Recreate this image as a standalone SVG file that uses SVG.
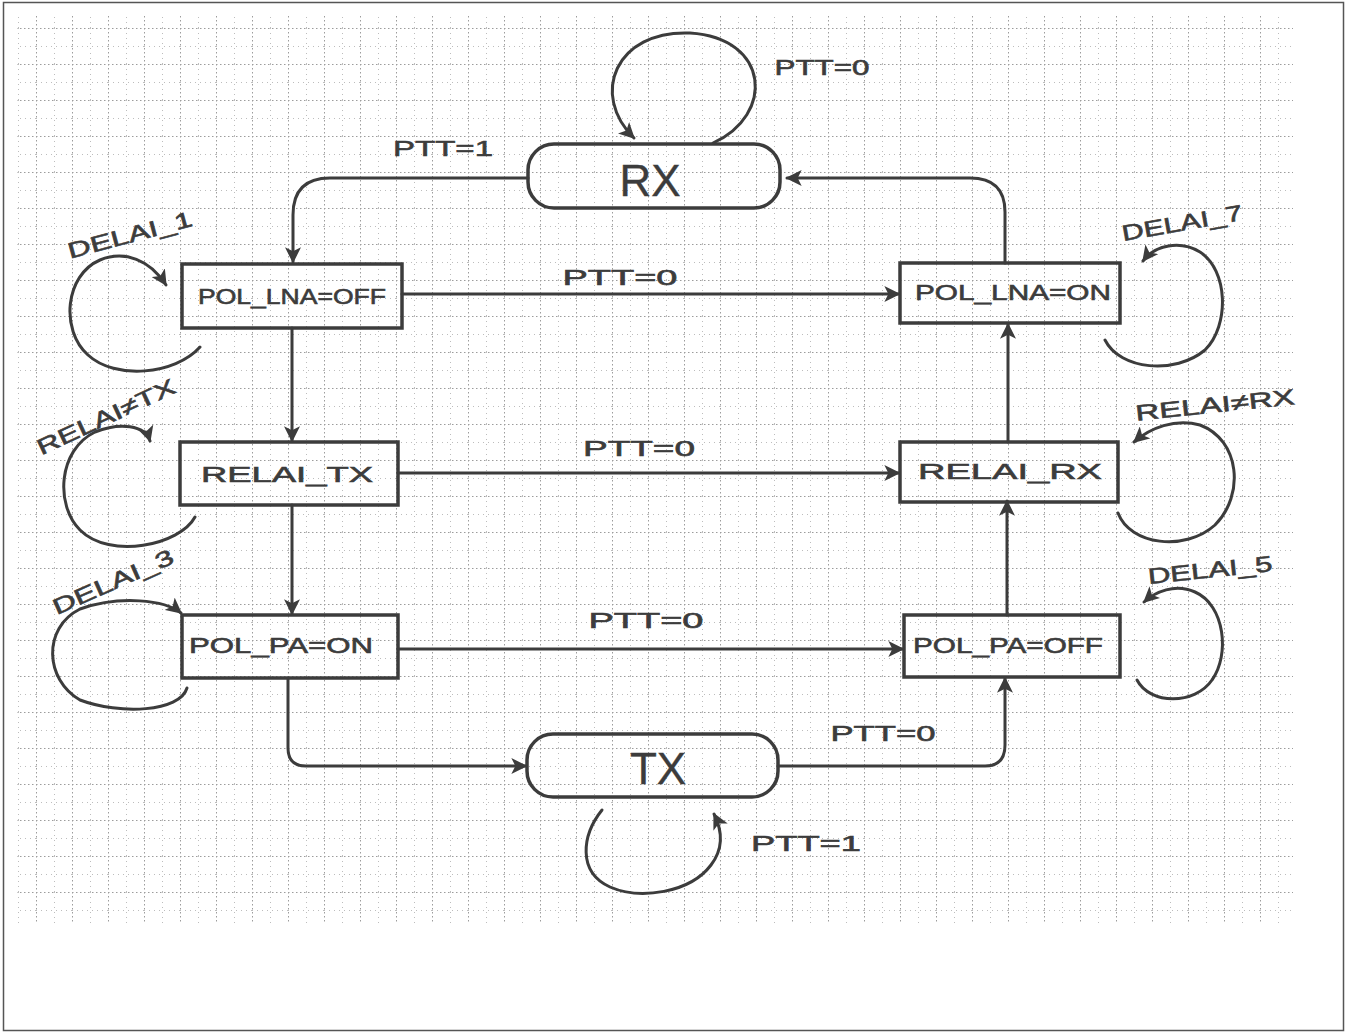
<svg xmlns="http://www.w3.org/2000/svg" width="1348" height="1035" viewBox="0 0 1348 1035">
  <defs>
    <pattern id="grid" x="0" y="28" width="36" height="36" patternUnits="userSpaceOnUse">
      <path d="M18.5,0 V36 M0,18.5 H36" stroke="#bdbdbd" stroke-width="1" stroke-dasharray="1 4" fill="none"/>
      <path d="M0.5,0 V36 M0,0.5 H36" stroke="#9c9c9c" stroke-width="1" stroke-dasharray="1.5 2.5" fill="none"/>
    </pattern>
    <marker id="arr" viewBox="0 0 12 12" refX="11" refY="6" markerWidth="16" markerHeight="16" markerUnits="userSpaceOnUse" orient="auto">
      <path d="M0,0 L12,6 L0,12 L3,6 z" fill="#3c3c3c"/>
    </marker>
  </defs>
  <style>
    .ln { fill: none; stroke: #3c3c3c; stroke-width: 3; stroke-linecap: round; stroke-linejoin: round; }
    .box { fill: none; stroke: #3c3c3c; stroke-width: 3.5; }
    .t { font-family: "Liberation Sans", "DejaVu Sans", sans-serif; fill: #3c3c3c; stroke: #3c3c3c; stroke-width: 0.6; text-anchor: middle; dominant-baseline: central; }
    .nt { font-size: 22px; }
    .big { font-size: 44px; stroke-width: 0.4; }
    .lb { font-size: 22px; }
  </style>
  <rect x="0" y="0" width="1348" height="1035" fill="#ffffff"/>
  <rect x="17" y="15" width="1276" height="908" fill="url(#grid)"/>
  <rect x="3.5" y="2.5" width="1340" height="1028" fill="none" stroke="#555" stroke-width="1.5"/>

  <g id="connectors">
    <path class="ln" d="M528,178 H330 Q293,178 293,215 V262" marker-end="url(#arr)"/>
    <path class="ln" d="M713,143 C775,115 770,38 690,33 C615,30 590,95 634,138" marker-end="url(#arr)"/>
    <path class="ln" d="M1005,263 V212 Q1005,178 970,178 H787" marker-end="url(#arr)"/>
    <path class="ln" d="M402,294 H899" marker-end="url(#arr)"/>
    <path class="ln" d="M292,328 V441" marker-end="url(#arr)"/>
    <path class="ln" d="M398,473 H899" marker-end="url(#arr)"/>
    <path class="ln" d="M292,505 V614" marker-end="url(#arr)"/>
    <path class="ln" d="M398,649 H903" marker-end="url(#arr)"/>
    <path class="ln" d="M288,678 V748 Q288,766 306,766 H526" marker-end="url(#arr)"/>
    <path class="ln" d="M778,766 H985 Q1005,766 1005,745 V678" marker-end="url(#arr)"/>
    <path class="ln" d="M1007,615 V501" marker-end="url(#arr)"/>
    <path class="ln" d="M1008,442 V324" marker-end="url(#arr)"/>
    <path class="ln" d="M200,347 C175,375 115,380 88,355 C60,330 65,275 100,260 C125,250 150,260 166,285" marker-end="url(#arr)"/>
    <path class="ln" d="M195,517 C180,545 110,560 80,530 C55,505 58,450 95,432 C120,422 145,425 150,441" marker-end="url(#arr)"/>
    <path class="ln" d="M187,688 C180,712 120,715 80,700 C45,680 42,628 80,609 C120,595 165,600 181,613" marker-end="url(#arr)"/>
    <path class="ln" d="M1105,340 C1120,370 1175,375 1205,350 C1230,325 1228,270 1200,252 C1180,240 1155,245 1143,261" marker-end="url(#arr)"/>
    <path class="ln" d="M1118,513 C1130,545 1185,552 1215,525 C1245,495 1240,440 1200,425 C1175,418 1150,428 1134,442" marker-end="url(#arr)"/>
    <path class="ln" d="M1137,680 C1150,705 1195,705 1212,680 C1230,655 1225,605 1195,592 C1175,583 1155,592 1144,602" marker-end="url(#arr)"/>
    <path class="ln" d="M602,810 C582,835 577,872 610,887 C640,900 690,893 711,865 C724,848 722,830 714,814" marker-end="url(#arr)"/>
    <text class="t lb" x="443" y="148" textLength="100" lengthAdjust="spacingAndGlyphs">PTT=1</text>
    <text class="t lb" x="822" y="67" textLength="95" lengthAdjust="spacingAndGlyphs">PTT=0</text>
    <text class="t lb" x="620" y="277" textLength="115" lengthAdjust="spacingAndGlyphs">PTT=0</text>
    <text class="t lb" x="639" y="448" textLength="112" lengthAdjust="spacingAndGlyphs">PTT=0</text>
    <text class="t lb" x="646" y="620" textLength="115" lengthAdjust="spacingAndGlyphs">PTT=0</text>
    <text class="t lb" x="883" y="733" textLength="105" lengthAdjust="spacingAndGlyphs">PTT=0</text>
    <text class="t lb" x="806" y="843" textLength="110" lengthAdjust="spacingAndGlyphs">PTT=1</text>
    <text class="t lb" transform="translate(130,235) rotate(-15)" x="0" y="0" textLength="128" lengthAdjust="spacingAndGlyphs">DELAI_1</text>
    <text class="t lb" transform="translate(106,417) rotate(-25)" x="0" y="0" textLength="150" lengthAdjust="spacingAndGlyphs">RELAI≠TX</text>
    <text class="t lb" transform="translate(113,582) rotate(-24)" x="0" y="0" textLength="130" lengthAdjust="spacingAndGlyphs">DELAI_3</text>
    <text class="t lb" transform="translate(1182,223) rotate(-10)" x="0" y="0" textLength="122" lengthAdjust="spacingAndGlyphs">DELAI_7</text>
    <text class="t lb" transform="translate(1215,405) rotate(-6)" x="0" y="0" textLength="160" lengthAdjust="spacingAndGlyphs">RELAI≠RX</text>
    <text class="t lb" transform="translate(1210,570) rotate(-6)" x="0" y="0" textLength="125" lengthAdjust="spacingAndGlyphs">DELAI_5</text>
  </g>

  <g id="node-rx">
    <rect class="box" x="528" y="144" width="252" height="64" rx="26"/>
    <text class="t big" x="650" y="180">RX</text>
  </g>
  <g id="node-tx">
    <rect class="box" x="527" y="734" width="251" height="63" rx="26"/>
    <text class="t big" x="658" y="768">TX</text>
  </g>
  <g id="node-pol-lna-off">
    <rect class="box" x="182" y="264" width="220" height="64"/>
    <text class="t nt" x="292" y="296" textLength="188" lengthAdjust="spacingAndGlyphs">POL_LNA=OFF</text>
  </g>
  <g id="node-relai-tx">
    <rect class="box" x="180" y="442" width="218" height="63"/>
    <text class="t nt" x="287" y="474" textLength="172" lengthAdjust="spacingAndGlyphs">RELAI_TX</text>
  </g>
  <g id="node-pol-pa-on">
    <rect class="box" x="182" y="615" width="216" height="63"/>
    <text class="t nt" x="281" y="645" textLength="184" lengthAdjust="spacingAndGlyphs">POL_PA=ON</text>
  </g>
  <g id="node-pol-lna-on">
    <rect class="box" x="900" y="263" width="220" height="60"/>
    <text class="t nt" x="1013" y="292" textLength="196" lengthAdjust="spacingAndGlyphs">POL_LNA=ON</text>
  </g>
  <g id="node-relai-rx">
    <rect class="box" x="900" y="442" width="218" height="60"/>
    <text class="t nt" x="1010" y="471" textLength="184" lengthAdjust="spacingAndGlyphs">RELAI_RX</text>
  </g>
  <g id="node-pol-pa-off">
    <rect class="box" x="904" y="615" width="216" height="62"/>
    <text class="t nt" x="1008" y="645" textLength="190" lengthAdjust="spacingAndGlyphs">POL_PA=OFF</text>
  </g>
</svg>
